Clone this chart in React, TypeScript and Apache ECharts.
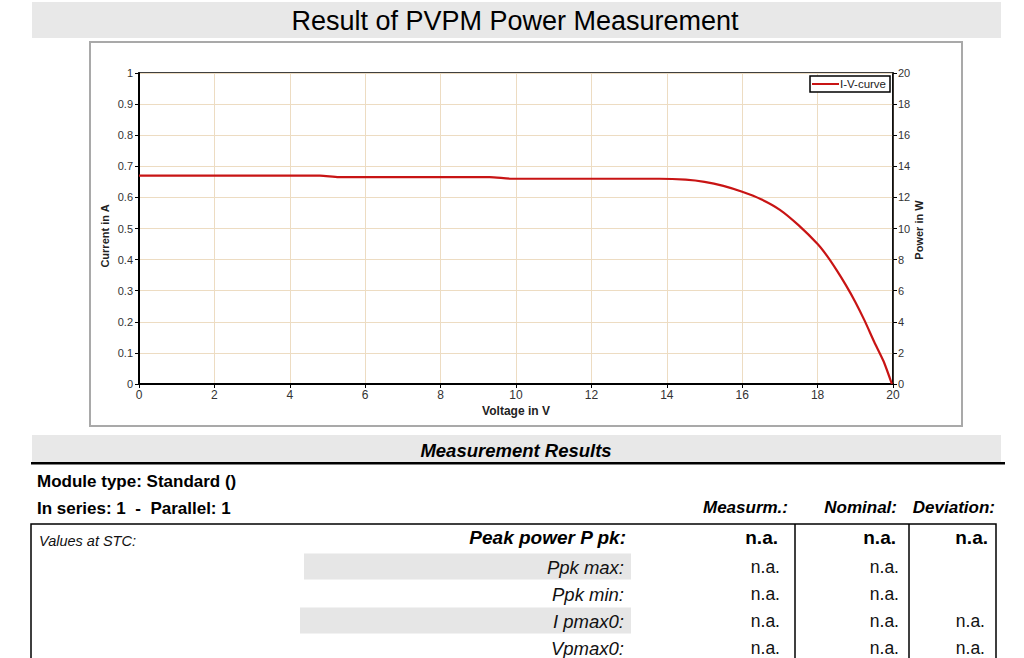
import React, { useEffect, useRef } from "react";
import * as echarts from "echarts";

// I-V curve (voltage in V, current in A)
const voltage = [0, 2, 4, 4.8, 5.3, 7, 9.3, 9.9, 12, 13.8, 14.5, 15.0, 15.5, 16.0, 16.5, 17.0, 17.5, 18.0, 18.25, 18.5, 18.75, 19.0, 19.25, 19.5, 19.75, 19.97];
const current = [0.670, 0.670, 0.670, 0.670, 0.665, 0.665, 0.665, 0.660, 0.660, 0.660, 0.657, 0.650, 0.637, 0.618, 0.594, 0.560, 0.510, 0.450, 0.412, 0.367, 0.318, 0.264, 0.203, 0.136, 0.073, 0];
const seriesName = "I-V-curve";

const titleText = "Result of PVPM Power Measurement";
const xAxisTitle = "Voltage in V";
const leftAxisTitle = "Current in A";
const rightAxisTitle = "Power in W";

// table texts
const sectionTitle = "Measurement Results";
const moduleLine = "Module type: Standard ()";
const seriesLine = "In series: 1  -  Parallel: 1";
const columnHeaders = ["Measurm.:", "Nominal:", "Deviation:"];
const stcLabel = "Values at STC:";
const peakLabel = "Peak power P pk:";
const peakValues = ["n.a.", "n.a.", "n.a."];
const rowLabels = ["Ppk max:", "Ppk min:", "I pmax0:", "Vpmax0:"];
const measuredValues = ["n.a.", "n.a.", "n.a.", "n.a."];
const nominalValues = ["n.a.", "n.a.", "n.a.", "n.a."];
const deviationValues = ["", "", "n.a.", "n.a."];
const shadedRows = [true, false, true, false];

const FONT = '"Liberation Sans", Arial, sans-serif';

function txt(x: number, y: number, text: string, o: any = {}) {
  const align = o.align || "left";
  return {
    type: "text",
    x,
    y,
    z: 10,
    scaleX: o.scaleX || 1,
    rotation: o.rotation || 0,
    style: {
      text,
      x: 0,
      y: 0,
      fill: o.color || "#000",
      fontSize: o.size || 14,
      fontFamily: FONT,
      fontWeight: o.weight || "normal",
      fontStyle: o.style || "normal",
      align,
      textAlign: align,
      verticalAlign: "middle",
      textVerticalAlign: "middle",
    },
  };
}

export default function App() {
  const ref = useRef<HTMLDivElement>(null);
  useEffect(() => {
    if (!ref.current) return;
    const chart = echarts.init(ref.current, null, { renderer: "svg" });

    const colRight = [778, 896, 988];
    const rowY = [567, 594, 621, 648];

    const graphic: any[] = [
      // title band
      { type: "rect", shape: { x: 32, y: 2, width: 969, height: 36 }, style: { fill: "#e8e8e8" }, z: 0 },
      txt(515, 21, titleText, { size: 27, scaleX: 1.0, align: "center" }),
      // chart frame
      { type: "rect", shape: { x: 90, y: 42, width: 872, height: 384 }, style: { fill: "none", stroke: "#a9a9a9", lineWidth: 2 }, z: 0 },
      txt(105, 236, leftAxisTitle, { size: 11, weight: "bold", rotation: Math.PI / 2, align: "center", color: "#222" }),
      txt(919, 230, rightAxisTitle, { size: 11, weight: "bold", rotation: Math.PI / 2, align: "center", color: "#222" }),
      // section band
      { type: "rect", shape: { x: 32, y: 435, width: 969, height: 28 }, style: { fill: "#e8e8e8" }, z: 0 },
      txt(516, 450, sectionTitle, { size: 18.5, weight: "bold", style: "italic", align: "center" }),
      { type: "rect", shape: { x: 31, y: 462, width: 974, height: 2.5 }, style: { fill: "#000" }, z: 1 },
      txt(37, 481, moduleLine, { size: 17, weight: "bold" }),
      txt(37, 508, seriesLine, { size: 17, weight: "bold" }),
      // table
      { type: "rect", shape: { x: 31, y: 524, width: 965, height: 160 }, style: { fill: "none", stroke: "#000", lineWidth: 1.5 }, z: 1 },
      { type: "line", shape: { x1: 795, y1: 524, x2: 795, y2: 660 }, style: { stroke: "#000", lineWidth: 1.5 }, z: 1 },
      { type: "line", shape: { x1: 909, y1: 524, x2: 909, y2: 660 }, style: { stroke: "#000", lineWidth: 1.5 }, z: 1 },
      txt(39, 541, stcLabel, { size: 14.5, style: "italic", color: "#111" }),
      txt(626, 537, peakLabel, { size: 19, weight: "bold", style: "italic", align: "right" }),
    ];
    columnHeaders.forEach((h, i) => {
      graphic.push(txt([788, 897, 995][i], 507, h, { size: 17, weight: "bold", style: "italic", align: "right" }));
    });
    peakValues.forEach((v, i) => {
      graphic.push(txt(colRight[i], 537, v, { size: 19, weight: "bold", align: "right" }));
    });
    rowLabels.forEach((lab, r) => {
      if (shadedRows[r]) {
        graphic.push({
          type: "rect",
          shape: { x: r === 0 ? 304 : 300, y: rowY[r] - 13.5, width: r === 0 ? 327 : 331, height: 26 },
          style: { fill: "#e6e6e6" },
          z: 1,
        });
      }
      graphic.push(txt(624, rowY[r], lab, { size: 18.5, style: "italic", align: "right", color: "#111" }));
      graphic.push(txt(780, rowY[r], measuredValues[r], { size: 17.5, align: "right", color: "#111" }));
      graphic.push(txt(899, rowY[r], nominalValues[r], { size: 17.5, align: "right", color: "#111" }));
      if (deviationValues[r]) graphic.push(txt(985, rowY[r], deviationValues[r], { size: 17.5, align: "right", color: "#111" }));
    });

    const axisLabel = { color: "#333", fontSize: 11, fontFamily: FONT };
    const gridColor = "#eddcc2";

    chart.setOption({
      animation: false,
      backgroundColor: "#fff",
      textStyle: { fontFamily: FONT },
      grid: {
        left: 139,
        top: 73,
        width: 754,
        height: 311,
        show: true,
        borderColor: "#000",
        borderWidth: 1.5,
        backgroundColor: "#fff",
        containLabel: false,
      },
      legend: {
        show: true,
        data: [seriesName],
        left: 810,
        top: 76,
        padding: [2, 4, 2, 2],
        itemWidth: 27,
        itemHeight: 2,
        icon: "rect",
        borderColor: "#000",
        borderWidth: 1.5,
        backgroundColor: "#fff",
        textStyle: { fontSize: 11.5, color: "#222", fontFamily: FONT, padding: [0, 0, 0, -4] },
      },
      xAxis: {
        type: "value",
        min: 0,
        max: 20,
        interval: 2,
        name: xAxisTitle,
        nameLocation: "middle",
        nameGap: 21,
        nameTextStyle: { fontSize: 12, fontWeight: "bold", color: "#222", fontFamily: FONT },
        axisLine: { show: true, onZero: false, lineStyle: { color: "#000", width: 2 } },
        axisTick: { show: true, length: 4, lineStyle: { color: "#000" } },
        axisLabel: { ...axisLabel, fontSize: 12, margin: 5 },
        splitLine: { show: true, lineStyle: { color: gridColor, width: 1 } },
      },
      yAxis: [
        {
          type: "value",
          min: 0,
          max: 1,
          interval: 0.1,
          position: "left",
          axisLine: { show: true, onZero: false, lineStyle: { color: "#000", width: 2 } },
          axisTick: { show: true, length: 4, lineStyle: { color: "#000" } },
          axisLabel: { ...axisLabel, margin: 6, formatter: (v: number) => String(Math.round(v * 10) / 10) },
          splitLine: { show: true, lineStyle: { color: gridColor, width: 1 } },
        },
        {
          type: "value",
          min: 0,
          max: 20,
          interval: 2,
          position: "right",
          axisLine: { show: true, onZero: false, lineStyle: { color: "#000", width: 1.5 } },
          axisTick: { show: true, length: 4, lineStyle: { color: "#000" } },
          axisLabel: { ...axisLabel, margin: 5 },
          splitLine: { show: false },
        },
      ],
      series: [
        {
          name: seriesName,
          type: "line",
          xAxisIndex: 0,
          yAxisIndex: 0,
          data: voltage.map((v, i) => [v, current[i]]),
          showSymbol: false,
          symbol: "none",
          smooth: 0.25,
          lineStyle: { color: "#c81414", width: 2.2 },
          itemStyle: { color: "#c81414" },
          z: 3,
        },
      ],
      graphic,
    });
    return () => chart.dispose();
  }, []);
  return <div ref={ref} style={{ position: "absolute", left: 0, top: 0, width: 1024, height: 658 }} />;
}
